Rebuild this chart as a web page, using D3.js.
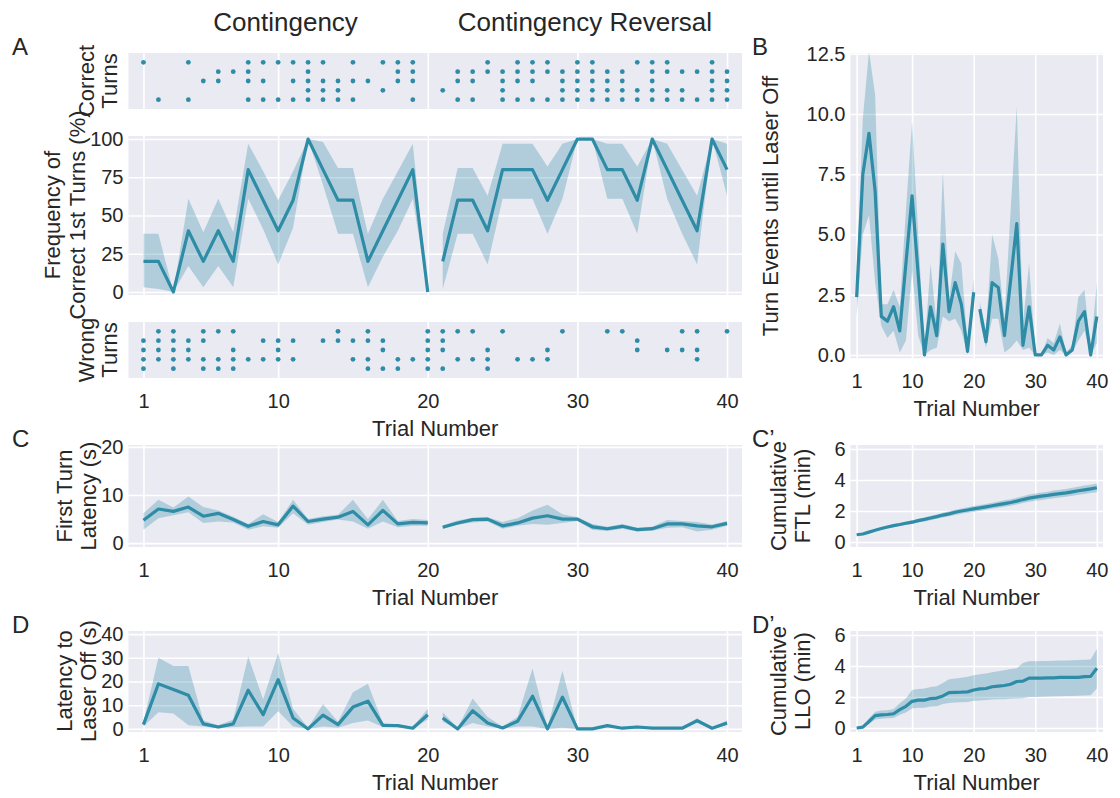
<!DOCTYPE html>
<html>
<head>
<meta charset="utf-8">
<script src="https://cdn.jsdelivr.net/npm/d3@7/dist/d3.min.js"></script>
<style>
  body { margin: 0; background: #fff; }
  text { font-family: "Liberation Sans", Arial, "DejaVu Sans", sans-serif; fill: #262626; }
</style>
</head>
<body>
<svg id="fig" width="1120" height="798"></svg>
<script>
// ---------------- data ----------------
const trials = d3.range(1, 41);
const xTickValues = [1, 10, 20, 30, 40];
// two experimental phases: contingency (trials 1-20) and reversal (21-40)
const phases = [[1, 20], [21, 40]];
const phaseTitles = ["Contingency", "Contingency Reversal"];

// first-turn outcome per animal and trial (1 = correct, 0 = wrong)
const firstTurnByAnimal = [
  [1,0,0,1,0,0,0,1,1,1,1,1,1,0,1,0,1,1,1,0, 0,0,0,1,0,1,1,1,0,1,1,0,0,1,1,1,0,0,1,0],
  [0,0,0,0,0,1,1,1,0,0,0,1,0,0,0,0,0,1,1,0, 0,1,1,1,1,1,1,1,1,1,1,1,1,0,1,1,1,1,1,1],
  [0,0,0,0,1,1,0,1,1,0,1,1,1,1,1,1,0,1,1,0, 0,1,1,0,1,1,1,0,1,1,1,1,1,0,1,0,0,0,1,1],
  [0,0,0,0,0,0,0,0,0,0,0,1,1,1,0,0,1,0,0,0, 1,0,0,0,1,0,0,0,1,1,1,1,1,1,1,1,1,0,1,1],
  [0,1,0,1,0,0,0,1,1,1,1,1,1,1,1,0,0,0,1,0, 0,1,1,0,1,1,1,1,1,1,1,1,1,1,1,1,1,1,1,1]
];

// frequency of correct first turns (%) with confidence band
const freqCorrect = [20,20,0,40,20,40,20,80,60,40,60,100,80,60,60,20,40,60,80,0,
                     20,60,60,40,80,80,80,60,80,100,100,80,80,60,100,80,60,40,100,80];
const freqLow  = [3,2,0,17,3,17,3,61,41,18,42,100,70,38,38,3,23,40,61,0,
                  2,38,38,18,61,61,61,38,61,100,100,61,61,38,100,61,38,18,100,63];
const freqHigh = [38,38,0,61,39,61,39,97,79,60,79,100,98,81,81,38,61,79,97,0,
                  38,81,81,63,97,97,97,82,97,100,100,97,97,82,100,97,80,63,100,97];

// turn events until laser off
const turnEvents = [2.4,7.5,9.2,6.8,1.6,1.4,2.0,1.0,3.8,6.6,3.3,0.0,2.0,0.8,4.6,1.8,3.0,2.1,0.15,2.6,
                    1.9,0.55,3.0,2.8,0.8,3.1,5.45,0.4,2.0,0.0,0.0,0.4,0.2,0.75,0.0,0.2,1.4,1.8,0.0,1.6];
const turnLow  = [1.6,5.0,5.8,3.0,1.2,0.7,1.0,0.1,0.6,3.5,0.8,0.0,0.2,0.3,1.6,1.4,1.5,1.0,0.0,2.0,
                  1.4,0.3,1.5,1.5,0.1,0.3,0.6,0.2,0.3,0.0,0.0,0.1,0.0,0.2,0.0,0.1,0.6,1.0,0.0,0.5];
const turnHigh = [3.2,9.8,12.6,10.8,2.1,2.1,2.7,2.0,6.0,9.7,5.0,0.2,3.8,1.2,7.6,2.3,4.3,3.8,0.5,3.2,
                  2.2,1.0,5.0,4.0,1.5,6.0,10.3,1.3,3.8,0.1,0.0,0.7,0.5,1.3,0.1,0.4,2.4,2.7,0.2,3.0];

// first turn latency (s)
const ftl = [4.75,7.1,6.6,7.5,5.6,6.2,4.9,3.5,4.5,3.8,7.7,4.5,5.0,5.4,6.6,3.8,6.8,4.0,4.3,4.2,
             3.3,4.2,4.9,5.0,3.6,4.2,5.2,5.7,5.0,5.0,3.4,3.0,3.5,2.8,3.0,4.0,4.0,3.6,3.4,4.1];
const ftlLow  = [2.8,5.2,5.8,6.4,4.2,4.5,4.3,2.8,3.5,3.2,6.2,3.8,4.4,4.9,4.5,3.0,4.5,3.3,3.6,3.6,
                 3.0,3.8,4.3,4.5,3.0,3.6,4.0,3.8,4.2,4.6,2.8,2.5,3.0,2.4,2.6,3.2,3.3,2.4,2.8,3.6];
const ftlHigh = [6.2,9.0,7.4,9.7,7.5,6.8,5.5,4.0,6.0,4.4,9.0,5.0,5.6,5.9,9.0,5.0,9.0,4.6,5.0,4.8,
                 3.7,4.7,5.3,5.4,4.4,5.2,6.8,8.0,6.0,5.4,4.0,3.4,4.0,3.2,3.4,4.8,4.6,4.4,3.9,4.6];

// latency to laser off (s)
const llo = [1.8,19.0,16.6,14.2,2.1,0.8,2.1,16.3,6.0,20.8,4.6,0.0,5.8,1.8,9.2,11.7,1.5,1.4,0.3,6.0,
             4.6,0.0,7.7,2.5,0.4,3.2,13.8,0.0,13.4,0.0,0.0,1.4,0.3,0.8,0.3,0.3,0.3,3.5,0.3,2.5];
const lloLow  = [1.0,7.0,6.5,1.5,1.0,0.2,0.8,1.0,1.0,7.5,1.0,0.0,1.0,0.5,2.5,3.5,0.8,0.8,0.1,4.0,
                 3.0,0.0,2.5,1.0,0.1,1.0,1.0,0.0,0.5,0.0,0.0,0.8,0.0,0.3,0.0,0.0,0.0,2.5,0.0,1.5];
const lloHigh = [3.0,30.0,26.5,26.5,3.5,1.5,4.0,30.5,12.5,32.0,8.5,0.5,10.5,3.0,15.5,19.0,2.5,2.0,0.8,8.5,
                 7.0,0.5,12.8,5.0,1.0,5.0,25.5,0.5,24.5,0.2,0.2,2.0,0.6,1.3,0.6,0.6,0.6,4.5,0.6,3.5];

// cumulative first turn latency (min)
const cumFtl = [0.47,0.52,0.64,0.76,0.87,0.97,1.06,1.13,1.21,1.28,1.38,1.46,1.55,1.64,1.74,1.82,1.92,2.00,2.07,2.14,
                2.20,2.27,2.34,2.41,2.48,2.55,2.64,2.74,2.83,2.90,2.96,3.01,3.07,3.12,3.17,3.24,3.31,3.37,3.43,3.50];
const cumFtlLow  = [0.43,0.47,0.58,0.69,0.79,0.88,0.96,1.03,1.10,1.16,1.26,1.33,1.41,1.50,1.59,1.66,1.75,1.83,1.89,1.96,
                    2.01,2.08,2.14,2.21,2.27,2.34,2.42,2.52,2.60,2.67,2.72,2.77,2.82,2.87,2.92,2.98,3.05,3.10,3.16,3.22];
const cumFtlHigh = [0.51,0.57,0.70,0.83,0.95,1.06,1.16,1.23,1.32,1.40,1.50,1.59,1.69,1.78,1.89,1.98,2.09,2.17,2.25,2.32,
                    2.39,2.46,2.54,2.61,2.69,2.76,2.86,2.96,3.06,3.13,3.20,3.25,3.32,3.37,3.42,3.50,3.57,3.64,3.70,3.78];

// cumulative latency to laser off (min)
const cumLlo = [0.00,0.05,0.42,0.80,0.85,0.87,0.92,1.18,1.40,1.72,1.80,1.80,1.90,1.93,2.07,2.28,2.30,2.31,2.33,2.45,
                2.52,2.55,2.66,2.70,2.74,2.82,3.00,3.02,3.22,3.22,3.22,3.24,3.24,3.26,3.26,3.26,3.27,3.32,3.33,3.85];
const cumLloLow  = [0.00,0.02,0.25,0.55,0.60,0.62,0.65,0.85,1.00,1.25,1.30,1.30,1.38,1.40,1.55,1.62,1.64,1.66,1.68,1.75,
                    1.78,1.80,1.83,1.85,1.86,1.88,1.90,1.92,2.00,2.00,2.02,2.03,2.04,2.05,2.06,2.07,2.08,2.10,2.12,2.55];
const cumLloHigh = [0.00,0.10,0.62,1.05,1.12,1.15,1.22,1.60,1.90,2.45,2.52,2.55,2.65,2.70,2.90,3.15,3.20,3.25,3.30,3.40,
                    3.47,3.52,3.60,3.66,3.72,3.80,3.85,4.20,4.30,4.30,4.32,4.33,4.34,4.35,4.36,4.37,4.38,4.40,4.42,5.10];

// ---------------- drawing ----------------
const svg = d3.select("#fig");
const BG = "#EAEAF2";
const LINE = "#2E8CA6";
const TICK_FS = 20, LABEL_FS = 22, TITLE_FS = 26, LETTER_FS = 24;
const TICK_PAD = 16;
const xDomain = [0, 41];

const left  = {x0: 128.5, x1: 742};
const right = {x0: 850.5, x1: 1103};

let clipId = 0;
function panel(box, yDomain, yTicks, yFormat) {
  const x = d3.scaleLinear().domain(xDomain).range([box.x0, box.x1]);
  const y = d3.scaleLinear().domain(yDomain).range([box.y1, box.y0]);
  const g = svg.append("g");
  const h = box.y1 - box.y0, w = box.x1 - box.x0;
  g.append("rect").attr("x", box.x0).attr("y", box.y0).attr("width", w).attr("height", h).attr("fill", BG);

  // white grid lines
  g.append("g").attr("transform", `translate(0,${box.y1})`)
    .call(d3.axisBottom(x).tickValues(xTickValues).tickSize(-h).tickFormat(""))
    .call(a => { a.select(".domain").remove(); a.selectAll("line").attr("stroke", "#fff").attr("stroke-width", 1.6); });
  if (yTicks) {
    g.append("g").attr("transform", `translate(${box.x0},0)`)
      .call(d3.axisLeft(y).tickValues(yTicks).tickSize(-w).tickFormat(""))
      .call(a => { a.select(".domain").remove(); a.selectAll("line").attr("stroke", "#fff").attr("stroke-width", 1.6); });
    g.append("g").attr("transform", `translate(${box.x0},0)`)
      .call(d3.axisLeft(y).tickValues(yTicks).tickSize(0).tickPadding(5).tickFormat(yFormat || d3.format("d")))
      .call(a => { a.select(".domain").remove(); a.selectAll("text").attr("font-size", TICK_FS).attr("fill", "#262626"); });
  }
  const id = "clip" + (clipId++);
  svg.append("clipPath").attr("id", id).append("rect")
    .attr("x", box.x0).attr("y", box.y0).attr("width", w).attr("height", h);
  const plot = svg.append("g").attr("clip-path", `url(#${id})`);
  return {x, y, g, plot, box};
}

function xTickLabels(p) {
  p.g.append("g").attr("transform", `translate(0,${p.box.y1})`)
    .call(d3.axisBottom(p.x).tickValues(xTickValues).tickSize(0).tickPadding(TICK_PAD).tickFormat(d3.format("d")))
    .call(a => { a.select(".domain").remove(); a.selectAll("text").attr("font-size", TICK_FS).attr("fill", "#262626"); });
  // axis title sits a fixed distance under the tick labels
  svg.append("text").attr("x", (p.box.x0 + p.box.x1) / 2).attr("y", p.box.y1 + 50)
    .attr("text-anchor", "middle").attr("dominant-baseline", "central")
    .attr("font-size", LABEL_FS).text("Trial Number");
}

function yLabel(lines, xs, cy) {
  lines.forEach((t, i) => {
    svg.append("text").attr("transform", `translate(${xs[i]},${cy}) rotate(-90)`)
      .attr("text-anchor", "middle").attr("dominant-baseline", "central")
      .attr("font-size", LABEL_FS).text(t);
  });
}

function letter(t, x, y) {
  svg.append("text").attr("x", x).attr("y", y).attr("font-size", LETTER_FS).text(t);
}

function bandLine(p, mean, lo, hi, segments) {
  segments.forEach(([a, b]) => {
    const rows = trials.filter(t => t >= a && t <= b).map(t => ({t, m: mean[t - 1], lo: lo[t - 1], hi: hi[t - 1]}));
    p.plot.append("path").datum(rows)
      .attr("d", d3.area().x(d => p.x(d.t)).y0(d => p.y(d.lo)).y1(d => p.y(d.hi)))
      .attr("fill", LINE).attr("fill-opacity", 0.3).attr("stroke", "none");
    p.plot.append("path").datum(rows)
      .attr("d", d3.line().x(d => p.x(d.t)).y(d => p.y(d.m)))
      .attr("fill", "none").attr("stroke", LINE).attr("stroke-width", 3.2).attr("stroke-linejoin", "round");
  });
}

function dotRows(p, wantCorrect) {
  const pts = [];
  firstTurnByAnimal.forEach((row, ai) => row.forEach((v, ti) => {
    if ((v === 1) === wantCorrect) pts.push({t: trials[ti], a: ai + 1});
  }));
  p.plot.selectAll("circle.d").data(pts).join("circle")
    .attr("cx", d => p.x(d.t)).attr("cy", d => p.y(d.a)).attr("r", 2.4).attr("fill", LINE);
}

// ---- panel A ----
const correctP = panel({...left, y0: 53, y1: 109}, [6, 0], null);
dotRows(correctP, true);
const freqP = panel({...left, y0: 136, y1: 295}, [-2, 102], [0, 25, 50, 75, 100]);
bandLine(freqP, freqCorrect, freqLow, freqHigh, phases);
const wrongP = panel({...left, y0: 322, y1: 378}, [6, 0], null);
dotRows(wrongP, false);
xTickLabels(wrongP);

phaseTitles.forEach((t, i) => {
  const [a, b] = phases[i];
  svg.append("text").attr("x", (freqP.x(a) + freqP.x(b)) / 2).attr("y", 22)
    .attr("text-anchor", "middle").attr("dominant-baseline", "central")
    .attr("font-size", TITLE_FS).text(t);
});
yLabel(["Correct", "Turns"], [86, 109], 81);
yLabel(["Frequency of", "Correct 1st Turns (%)"], [52, 77], 215);
yLabel(["Wrong", "Turns"], [86, 109], 350);
letter("A", 12, 55);

// ---- panel B ----
const turnP = panel({...right, y0: 53.3, y1: 358.3}, [-0.14, 12.52], [0, 2.5, 5, 7.5, 10, 12.5], d3.format(".1f"));
bandLine(turnP, turnEvents, turnLow, turnHigh, phases);
xTickLabels(turnP);
yLabel(["Turn Events until Laser Off"], [770], 206);
letter("B", 752, 55);

// ---- panel C ----
const ftlP = panel({...left, y0: 445, y1: 547}, [-0.8, 20.4], [0, 10, 20]);
bandLine(ftlP, ftl, ftlLow, ftlHigh, phases);
xTickLabels(ftlP);
yLabel(["First Turn", "Latency (s)"], [64, 88], 496);
letter("C", 12, 447);

// ---- panel C' ----
const cumFtlP = panel({...right, y0: 445, y1: 547}, [-0.32, 6.26], [0, 2, 4, 6]);
bandLine(cumFtlP, cumFtl, cumFtlLow, cumFtlHigh, [[1, 40]]);
xTickLabels(cumFtlP);
yLabel(["Cumulative", "FTL (min)"], [778, 802], 496);
letter("C\u2019", 752, 447);

// ---- panel D ----
const lloP = panel({...left, y0: 631, y1: 732}, [-1.3, 41.3], [0, 10, 20, 30, 40]);
bandLine(lloP, llo, lloLow, lloHigh, phases);
xTickLabels(lloP);
yLabel(["Latency to", "Laser Off (s)"], [64, 88], 681);
letter("D", 12, 633);

// ---- panel D' ----
const cumLloP = panel({...right, y0: 631, y1: 732}, [-0.26, 6.26], [0, 2, 4, 6]);
bandLine(cumLloP, cumLlo, cumLloLow, cumLloHigh, [[1, 40]]);
xTickLabels(cumLloP);
yLabel(["Cumulative", "LLO (min)"], [778, 802], 681);
letter("D\u2019", 752, 633);
</script>
</body>
</html>
